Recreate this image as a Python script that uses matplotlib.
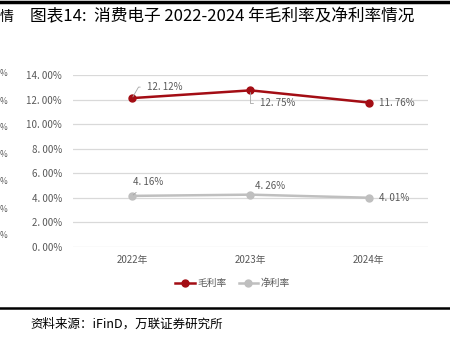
import matplotlib.pyplot as plt
from matplotlib.lines import Line2D

plt.rcParams['font.family'] = ['Noto Sans CJK SC', 'DejaVu Sans']

years = ['2022年', '2023年', '2024年']
gross_margin = [12.12, 12.75, 11.76]
net_margin = [4.16, 4.26, 4.01]
yticks = [0, 2, 4, 6, 8, 10, 12, 14]

red = '#A30D14'
grey = '#BFBFBF'
txt = '#595959'

W, H = 450, 340
fig = plt.figure(figsize=(W / 100, H / 100), dpi=100)
ax = fig.add_axes([73 / W, 1 - 247 / H, 355 / W, 172 / H])

x = range(len(years))
ax.plot(x, gross_margin, color=red, lw=1.8, marker='o', ms=5, label='毛利率', zorder=3)
ax.plot(x, net_margin, color=grey, lw=1.8, marker='o', ms=5, label='净利率', zorder=3)


def pct(v):
    # "12. 12%" style, as the report prints numbers
    return ('%.2f%%' % v).replace('.', '. ')


ax.set_xlim(-0.5, 2.5)
ax.set_ylim(0, 14)
ax.set_yticks(yticks)
ax.set_yticklabels([pct(v) for v in yticks])
ax.set_xticks(list(x))
ax.set_xticklabels(years)
ax.tick_params(length=0, labelsize=7, colors=txt, pad=8)
ax.tick_params(axis='x', pad=6)
ax.grid(axis='y', color='#D9D9D9', lw=0.9)
ax.set_axisbelow(True)
for s in ax.spines.values():
    s.set_visible(False)

lead = dict(arrowstyle='-', color='#A6A6A6', lw=0.6, shrinkA=3, shrinkB=1)


def lab(i, v, dx, dy, elbow=None):
    kw = {}
    if elbow:
        kw['arrowprops'] = dict(lead, connectionstyle=elbow)
    ax.annotate(pct(v), (i, v), xytext=(dx, dy), textcoords='offset pixels',
                ha='left', va='center', fontsize=7, color=txt, **kw)


lab(0, gross_margin[0], 15, 11, 'angle,angleA=0,angleB=60,rad=0')
lab(1, gross_margin[1], 9, -13, 'angle,angleA=0,angleB=90,rad=0')
lab(2, gross_margin[2], 10, 0)
lab(0, net_margin[0], 1, 14, 'arc3')
lab(1, net_margin[1], 5, 9)
lab(2, net_margin[2], 10, 0)

ax.legend(loc='upper center', bbox_to_anchor=(0.45, -0.13), ncol=2, frameon=False,
          fontsize=7, labelcolor=txt, handlelength=2.0, columnspacing=1.2,
          handletextpad=0.3)

# page furniture around the chart
fig.add_artist(Line2D([0, 1], [1 - 1.5 / H] * 2, color='black', lw=2.5))
fig.add_artist(Line2D([0, 1], [1 - 307.5 / H] * 2, color='black', lw=1.8))
fig.text(30 / W, 1 - 17 / H, '图表14:  消费电子 2022-2024 年毛利率及净利率情况',
         fontsize=12, va='center', ha='left', color='black')
fig.text(0, 1 - 17 / H, '情', fontsize=10, va='center', ha='left', color='black')
fig.text(30 / W, 1 - 324 / H, '资料来源：iFinD，万联证券研究所', fontsize=9,
         style='italic', va='center', ha='left', color='black')
for yp in [74, 101, 128, 155, 182, 209, 236]:
    fig.text(0, 1 - yp / H, '%', fontsize=6, color=txt, va='center', ha='left')

fig.savefig('out.png', dpi=100)
